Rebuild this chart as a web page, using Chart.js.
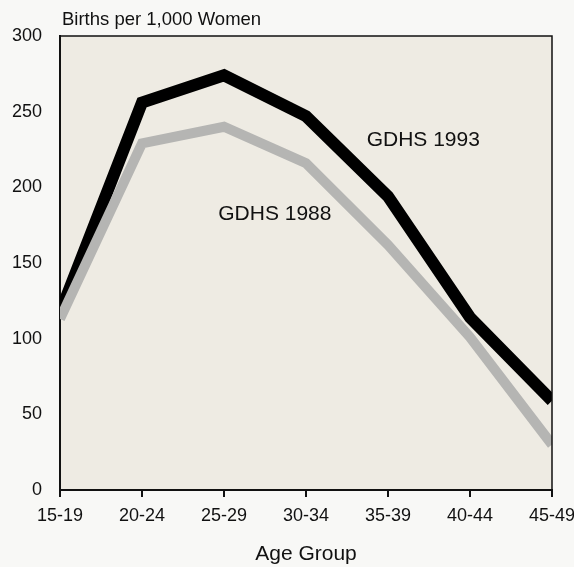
<!DOCTYPE html>
<html>
<head>
<meta charset="utf-8">
<script src="https://cdn.jsdelivr.net/npm/chart.js@4/dist/chart.umd.min.js"></script>
<style>
html,body{margin:0;padding:0;background:#f8f8f6;}
#wrap{width:574px;height:567px;position:relative;}
</style>
</head>
<body>
<div id="wrap"><canvas id="c" width="574" height="567"></canvas></div>
<script>
const ageGroups = ["15-19","20-24","25-29","30-34","35-39","40-44","45-49"];
const gdhs1993 = [117, 256, 274, 247, 194, 114, 59];
const gdhs1988 = [113, 229, 240, 216, 162, 101, 30];
const yTicks = [0, 50, 100, 150, 200, 250, 300];
const seriesLabels = ["GDHS 1993", "GDHS 1988"];
const yAxisLabel = "Births per 1,000 Women";
const xAxisLabel = "Age Group";
// label anchors in data space: [category index, value]
const labelAnchors = [[4.43, 231], [2.62, 182]];

const FONT = "'Liberation Sans', Arial, Helvetica, sans-serif";

const bgPlugin = {
  id: 'bg',
  beforeDraw(chart) {
    const {ctx, chartArea: a} = chart;
    ctx.save();
    ctx.fillStyle = '#eeebe3';
    ctx.fillRect(a.left, a.top, a.right - a.left, a.bottom - a.top);
    ctx.restore();
  },
  afterDatasetsDraw(chart) {
    const {ctx, chartArea: a, scales} = chart;
    ctx.save();
    ctx.strokeStyle = '#111';
    ctx.lineWidth = 1.5;
    ctx.beginPath();
    ctx.moveTo(a.left, a.top);
    ctx.lineTo(a.right, a.top);
    ctx.lineTo(a.right, a.bottom);
    ctx.stroke();
    ctx.fillStyle = '#111';
    ctx.font = '21px ' + FONT;
    ctx.textAlign = 'center';
    ctx.textBaseline = 'middle';
    labelAnchors.forEach((p, i) => {
      ctx.fillText(seriesLabels[i], scales.x.getPixelForValue(p[0]), scales.y.getPixelForValue(p[1]));
    });
    ctx.font = '18.5px ' + FONT;
    ctx.textAlign = 'left';
    ctx.textBaseline = 'alphabetic';
    ctx.fillText(yAxisLabel, a.left + 2, a.top - 11);
    ctx.restore();
  }
};

new Chart(document.getElementById('c'), {
  type: 'line',
  data: {
    labels: ageGroups,
    datasets: [
      {label: seriesLabels[1], data: gdhs1988, borderColor: '#b5b5b3', borderWidth: 10, clip: 0,
       pointRadius: 0, tension: 0, borderJoinStyle: 'miter', borderCapStyle: 'butt'},
      {label: seriesLabels[0], data: gdhs1993, borderColor: '#000', borderWidth: 12, clip: 0,
       pointRadius: 0, tension: 0, borderJoinStyle: 'miter', borderCapStyle: 'butt'}
    ]
  },
  options: {
    responsive: false,
    animation: false,
    layout: {padding: {left: 0, top: 36, right: 22, bottom: 0}},
    plugins: {legend: {display: false}, tooltip: {enabled: false}},
    scales: {
      x: {
        type: 'category',
        offset: false,
        grid: {display: true, drawOnChartArea: false, drawTicks: true, tickLength: 7, color: '#111', lineWidth: 2},
        border: {display: true, color: '#111', width: 2},
        ticks: {color: '#111', font: {family: FONT, size: 18}, padding: 8, maxRotation: 0, autoSkip: false},
        title: {display: true, text: xAxisLabel, color: '#111', font: {family: FONT, size: 21}, padding: {top: 10, bottom: 0}},
        afterFit(s) { s.height = 77; s.paddingRight = 0; s.paddingLeft = 0; }
      },
      y: {
        min: 0, max: 300,
        afterBuildTicks(s) { s.ticks = yTicks.map(v => ({value: v})); },
        grid: {display: false, drawTicks: false},
        border: {display: true, color: '#111', width: 2},
        ticks: {color: '#111', font: {family: FONT, size: 18}, padding: 18},
        afterFit(s) { s.width = 60; s.paddingTop = 0; s.paddingBottom = 0; }
      }
    }
  },
  plugins: [bgPlugin]
});
</script>
</body>
</html>
